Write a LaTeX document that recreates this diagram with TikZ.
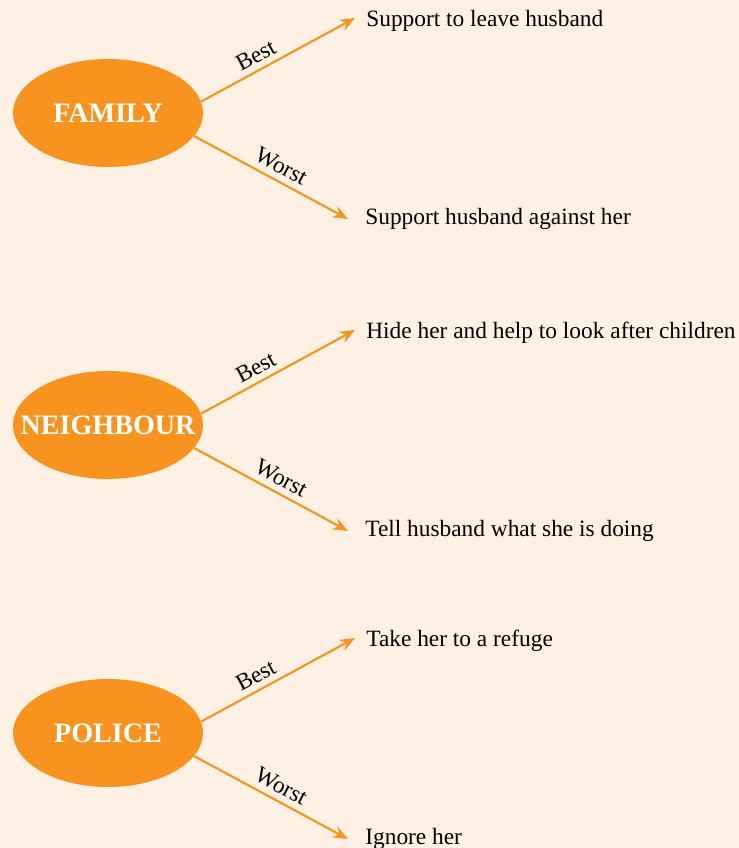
\documentclass[tikz,border=0pt]{standalone}
\usepackage{fontspec}
\setmainfont{Liberation Serif}
\usetikzlibrary{arrows.meta,shapes.geometric}
\definecolor{myOrange}{HTML}{F7931E}
\definecolor{myBack}{HTML}{FEF0E2}
\tikzset{
	group/.style = {ellipse, fill=myOrange, text=white, inner sep=0pt,
		minimum width=3.8cm, minimum height=2.16cm,
		font=\bfseries\fontsize{16}{19}\selectfont},
	answer/.style = {anchor=west, inner sep=0pt, font=\fontsize{13.3}{16}\selectfont},
	choice/.style = {sloped, above, font=\fontsize{13.3}{16}\selectfont},
	branch/.style = {draw=myOrange, line width=1.2pt,
		-{Stealth[length=0.3cm, width=0.24cm]}}
}
\newcommand{\myGroup}[5]{
\node[group] (#1) at (108,#2) {\makebox[0pt]{#3}};
\coordinate (#1-b) at (355,{#2-95});
\coordinate (#1-w) at (348,{#2+106});
\node[answer] (#1-best) at (366,{#2-92}) {#4};
\node[answer] (#1-worst) at (365,{#2+106}) {#5};
\draw[branch] (#1.7) -- node[choice, pos=.4] {Best} (#1-b);
\draw[branch] (#1.-15) -- node[choice, pos=.52] {Worst} (#1-w);
}

\begin{document}
\begin{tikzpicture}[x=0.02cm, y=-0.02cm]
	\useasboundingbox (0,0) rectangle (739,848);
	\fill[myBack] (0,0) rectangle (739,848);

	\myGroup{family}{113}{FAMILY}{Support to leave husband}{Support husband against her}
	\myGroup{neighbour}{425}{NEIGHBOUR}{Hide her and help to look after children}{Tell husband what she is doing}
	\myGroup{police}{733}{POLICE}{Take her to a refuge}{Ignore her}
\end{tikzpicture}
\end{document}
